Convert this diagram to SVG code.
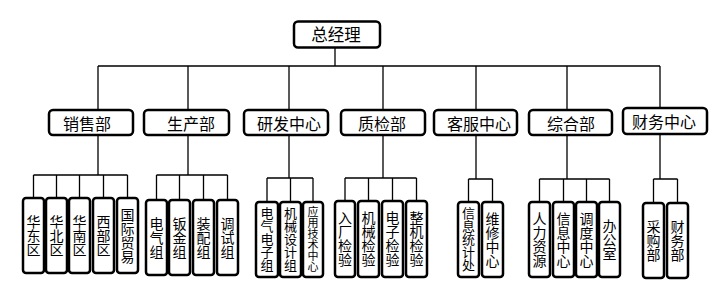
<svg xmlns="http://www.w3.org/2000/svg" width="724" height="287" viewBox="0 0 724 287">
<style>
.box{fill:#fff;stroke:#000;stroke-width:2.5}
.ln{fill:none;stroke:#000;stroke-width:1.3}
.t1{font-family:"Noto Sans CJK SC","Liberation Sans",sans-serif;font-size:16.5px;text-anchor:middle;fill:#000}
.t2{font-family:"Noto Sans CJK SC","Liberation Sans",sans-serif;font-size:16px;text-anchor:middle;fill:#000}
.v{font-family:"Noto Sans CJK SC","Liberation Sans",sans-serif;writing-mode:vertical-rl;text-anchor:middle;fill:#000}
.v3{font-size:14px}
.v5{font-size:13px}
.v6{font-size:11px}
</style>
<rect width="724" height="287" fill="#fff"/>
<g id="connectors">
<path class="ln" d="M335 48V66M98 66H660M98 66V110M188 66V110M289 66V110M383 66V110M476 66V110M567 66V110M660 66V108"/>
<path class="ln" d="M98 135V175M33.5 175H127.5M33.5 175V198M56.5 175V198M79.5 175V198M103.5 175V198M127.5 175V198"/>
<path class="ln" d="M188 135V175M156.5 175H227.5M156.5 175V200M179.5 175V200M203.5 175V200M227.5 175V200"/>
<path class="ln" d="M289 135V178M267 178H313M267 178V202M290.5 178V202M313 178V202"/>
<path class="ln" d="M383 135V178M345 178H416.5M345 178V201M368.5 178V201M392.5 178V201M416.5 178V201"/>
<path class="ln" d="M476 135V179M468.5 179H492.5M468.5 179V202M492.5 179V202"/>
<path class="ln" d="M567 135V179M539.5 179H609.5M539.5 179V202M563.5 179V202M586.5 179V202M609.5 179V202"/>
<path class="ln" d="M660 134V179M653.5 179H677.5M653.5 179V203M677.5 179V203"/>
</g>
<g id="n-ceo"><rect class="box" x="294" y="21.5" width="86" height="26" rx="4"/><text class="t1" x="336" y="41">总经理</text></g>
<g id="n-sales"><rect class="box" x="49" y="110" width="84" height="25" rx="4"/><text class="t2" x="87" y="129.5">销售部</text></g>
<g id="n-prod"><rect class="box" x="144" y="110" width="85" height="25" rx="4"/><text class="t2" x="191" y="129.5">生产部</text></g>
<g id="n-rd"><rect class="box" x="244" y="110" width="84" height="25" rx="4"/><text class="t2" x="289" y="129.5">研发中心</text></g>
<g id="n-qc"><rect class="box" x="341" y="110" width="84" height="25" rx="4"/><text class="t2" x="382" y="129.5">质检部</text></g>
<g id="n-cs"><rect class="box" x="434" y="110" width="83" height="25" rx="4"/><text class="t2" x="479" y="129.5">客服中心</text></g>
<g id="n-gen"><rect class="box" x="529" y="110" width="83" height="25" rx="4"/><text class="t2" x="571" y="129.5">综合部</text></g>
<g id="n-fin"><rect class="box" x="623" y="108" width="84" height="26" rx="4"/><text class="t2" x="664" y="127.5">财务中心</text></g>

<g id="n-s1"><rect class="box" x="23" y="198" width="21" height="75" rx="3"/><text class="v v3" x="33.5" y="235.5">华东区</text></g>
<g id="n-s2"><rect class="box" x="46" y="198" width="21" height="75" rx="3"/><text class="v v3" x="56.5" y="235.5">华北区</text></g>
<g id="n-s3"><rect class="box" x="69" y="198" width="21" height="75" rx="3"/><text class="v v3" x="79.5" y="235.5">华南区</text></g>
<g id="n-s4"><rect class="box" x="93" y="198" width="21" height="75" rx="3"/><text class="v v3" x="103.5" y="235.5">西部区</text></g>
<g id="n-s5"><rect class="box" x="117" y="198" width="21" height="75" rx="3"/><text class="v v3" x="127.5" y="235.5">国际贸易</text></g>

<g id="n-p1"><rect class="box" x="146" y="200" width="21" height="75" rx="3"/><text class="v v3" x="156.5" y="237.5">电气组</text></g>
<g id="n-p2"><rect class="box" x="169" y="200" width="21" height="75" rx="3"/><text class="v v3" x="179.5" y="237.5">钣金组</text></g>
<g id="n-p3"><rect class="box" x="193" y="200" width="21" height="75" rx="3"/><text class="v v3" x="203.5" y="237.5">装配组</text></g>
<g id="n-p4"><rect class="box" x="217" y="200" width="21" height="75" rx="3"/><text class="v v3" x="227.5" y="237.5">调试组</text></g>

<g id="n-r1"><rect class="box" x="256" y="202" width="22" height="75" rx="3"/><text class="v v5" x="267" y="239.5">电气电子组</text></g>
<g id="n-r2"><rect class="box" x="280" y="202" width="21" height="75" rx="3"/><text class="v v5" x="290.5" y="239.5">机械设计组</text></g>
<g id="n-r3"><rect class="box" x="303" y="202" width="20" height="75" rx="3"/><text class="v v6" x="313" y="239.5">应用技术中心</text></g>

<g id="n-q1"><rect class="box" x="335" y="201" width="20" height="76" rx="3"/><text class="v v3" x="345" y="239">入厂检验</text></g>
<g id="n-q2"><rect class="box" x="358" y="201" width="21" height="76" rx="3"/><text class="v v3" x="368.5" y="239">机械检验</text></g>
<g id="n-q3"><rect class="box" x="382" y="201" width="21" height="76" rx="3"/><text class="v v3" x="392.5" y="239">电子检验</text></g>
<g id="n-q4"><rect class="box" x="406" y="201" width="21" height="76" rx="3"/><text class="v v3" x="416.5" y="239">整机检验</text></g>

<g id="n-c1"><rect class="box" x="458" y="202" width="21" height="75" rx="3"/><text class="v v5" x="468.5" y="239.5">信息统计处</text></g>
<g id="n-c2"><rect class="box" x="482" y="202" width="21" height="75" rx="3"/><text class="v v3" x="492.5" y="239.5">维修中心</text></g>

<g id="n-g1"><rect class="box" x="529" y="202" width="21" height="75" rx="3"/><text class="v v3" x="539.5" y="239.5">人力资源</text></g>
<g id="n-g2"><rect class="box" x="553" y="202" width="21" height="75" rx="3"/><text class="v v3" x="563.5" y="239.5">信息中心</text></g>
<g id="n-g3"><rect class="box" x="576" y="202" width="21" height="75" rx="3"/><text class="v v3" x="586.5" y="239.5">调度中心</text></g>
<g id="n-g4"><rect class="box" x="599" y="202" width="21" height="75" rx="3"/><text class="v v3" x="609.5" y="239.5">办公室</text></g>

<g id="n-f1"><rect class="box" x="643" y="203" width="21" height="75" rx="3"/><text class="v v3" x="653.5" y="240.5">采购部</text></g>
<g id="n-f2"><rect class="box" x="667" y="203" width="21" height="75" rx="3"/><text class="v v3" x="677.5" y="240.5">财务部</text></g>
</svg>
